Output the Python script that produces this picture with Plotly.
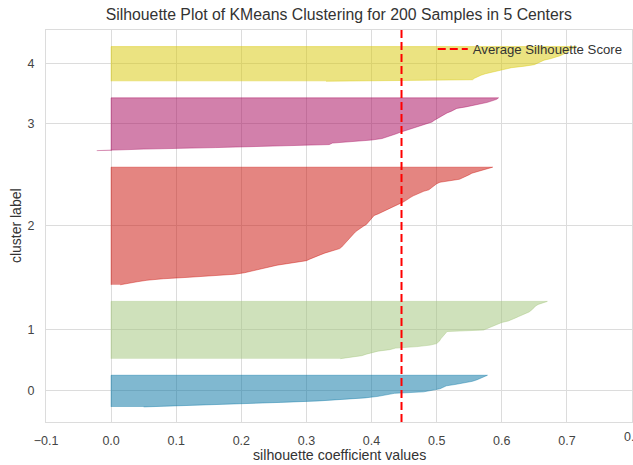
import plotly.graph_objects as go

# ---- data (sorted silhouette coefficients per cluster) ----
cluster_labels = ["0", "1", "2", "3", "4"]

silhouette_c0 = [0.05, 0.13, 0.20, 0.26, 0.32, 0.36, 0.39, 0.41, 0.425, 0.435, 0.48,
                 0.495, 0.505, 0.51, 0.515, 0.53, 0.545, 0.555, 0.562, 0.568, 0.573, 0.578]

silhouette_c1 = [0.352, 0.37, 0.385, 0.392, 0.40, 0.41, 0.428, 0.437, 0.47, 0.49, 0.50,
                 0.503, 0.505, 0.506, 0.508, 0.51, 0.512, 0.514, 0.516, 0.572, 0.578,
                 0.582, 0.587, 0.593, 0.60, 0.61, 0.617, 0.621, 0.626, 0.632, 0.638,
                 0.642, 0.645, 0.648, 0.65, 0.652, 0.656, 0.663, 0.67]

silhouette_c2 = [0.014, 0.025, 0.04, 0.055, 0.08, 0.12, 0.15, 0.19, 0.205, 0.215, 0.222,
                 0.23, 0.24, 0.255, 0.27, 0.288, 0.30, 0.305, 0.31, 0.316, 0.322, 0.328,
                 0.335, 0.345, 0.351, 0.354, 0.356, 0.358, 0.36, 0.362, 0.365, 0.367,
                 0.369, 0.371, 0.373, 0.375, 0.378, 0.381, 0.385, 0.388, 0.392, 0.394,
                 0.396, 0.398, 0.399, 0.401, 0.404, 0.41, 0.415, 0.42, 0.424, 0.43,
                 0.436, 0.441, 0.445, 0.449, 0.453, 0.456, 0.46, 0.464, 0.469, 0.474,
                 0.48, 0.488, 0.491, 0.494, 0.497, 0.50, 0.505, 0.525, 0.535, 0.54,
                 0.546, 0.55, 0.554, 0.562, 0.57, 0.578, 0.586]

silhouette_c3 = [-0.022, 0.05, 0.16, 0.26, 0.335, 0.34, 0.377, 0.40, 0.416, 0.424, 0.431,
                 0.437, 0.443, 0.45, 0.457, 0.465, 0.47, 0.478, 0.486, 0.493, 0.496,
                 0.50, 0.504, 0.507, 0.511, 0.516, 0.522, 0.527, 0.531, 0.545, 0.557,
                 0.568, 0.578, 0.585, 0.592, 0.595]

silhouette_c4 = [0.33, 0.555, 0.558, 0.562, 0.568, 0.575, 0.585, 0.59, 0.60, 0.615, 0.635,
                 0.65, 0.655, 0.66, 0.665, 0.675, 0.685, 0.69, 0.695, 0.70, 0.703, 0.706,
                 0.71, 0.715]

average_silhouette_score = 0.446
x_tick_values = [-0.1, 0.0, 0.1, 0.2, 0.3, 0.4, 0.5, 0.6, 0.7, 0.8]
x_tick_labels = ["\u22120.1", "0.0", "0.1", "0.2", "0.3", "0.4", "0.5", "0.6", "0.7", "0.8"]

# ---- styling ----
cluster_colors = ["2,114,162", "159,195,119", "202,11,3", "165,2,88", "215,199,3"]
FONT = "Liberation Sans, Arial, sans-serif"
GRID = "#dcdcdc"
TICKFONT = dict(family=FONT, size=12.5, color="#444444")

clusters = [silhouette_c0, silhouette_c1, silhouette_c2, silhouette_c3, silhouette_c4]

fig = go.Figure()
tick_pos = []
y_lower = 10
for values, rgb in zip(clusters, cluster_colors):
    size = len(values)
    ys = list(range(y_lower, y_lower + size))
    xs = list(values) + [0, 0]
    yy = ys + [ys[-1], ys[0]]
    fig.add_trace(go.Scatter(
        x=xs, y=yy, mode="lines", fill="toself",
        fillcolor=f"rgba({rgb},0.5)",
        line=dict(color=f"rgba({rgb},0.5)", width=0.8),
        showlegend=False, hoverinfo="skip"))
    tick_pos.append(y_lower + 0.5 * size)
    y_lower = y_lower + size + 10

n_samples = sum(len(v) for v in clusters)
y_max = n_samples + (len(clusters) + 1) * 10

fig.add_trace(go.Scatter(
    x=[average_silhouette_score, average_silhouette_score], y=[0, y_max],
    mode="lines", name="Average Silhouette Score",
    line=dict(color="#ff0000", width=2, dash="8px,4px"),
    showlegend=True, hoverinfo="skip"))

# the last x tick label sits on the right border of the figure (clipped there)
edge_label = dict(text=x_tick_labels[-1], xref="x", yref="paper",
                  x=x_tick_values[-1], y=-0.038, xanchor="center", yanchor="middle",
                  showarrow=False, font=TICKFONT)

fig.update_layout(
    width=633, height=465,
    margin=dict(l=46, r=1, t=30, b=43),
    paper_bgcolor="white", plot_bgcolor="white",
    font=dict(family=FONT, size=12, color="#444444"),
    title=dict(text="Silhouette Plot of KMeans Clustering for 200 Samples in 5 Centers",
               x=0.5353, xanchor="center", y=0.968, yanchor="middle",
               font=dict(family=FONT, size=15.8, color="#333333")),
    legend=dict(x=0.660, xanchor="left", y=0.99, yanchor="top",
                bgcolor="rgba(0,0,0,0)", borderwidth=0,
                font=dict(family=FONT, size=13.2, color="#333333")),
    xaxis=dict(range=[-0.1, 0.8], tickmode="array", tickvals=x_tick_values[:-1],
               ticktext=x_tick_labels[:-1], showgrid=True, gridcolor=GRID, gridwidth=1,
               zeroline=False, showline=True, linecolor=GRID, linewidth=1, mirror=True,
               ticks="", ticklabelstandoff=7, automargin=False,
               tickfont=TICKFONT),
    yaxis=dict(range=[0, y_max], tickmode="array", tickvals=tick_pos,
               ticktext=cluster_labels, showgrid=True, gridcolor=GRID, gridwidth=1,
               zeroline=False, showline=True, linecolor=GRID, linewidth=1, mirror=True,
               ticks="", ticklabelstandoff=8, automargin=False,
               tickfont=TICKFONT),
    annotations=[
        edge_label,
        dict(text="silhouette coefficient values", xref="paper", yref="paper",
             x=0.5, y=-0.083, xanchor="center", yanchor="middle", showarrow=False,
             font=dict(family=FONT, size=14.2, color="#333333")),
        dict(text="cluster label", xref="paper", yref="paper",
             x=-0.051, y=0.5, xanchor="center", yanchor="middle", showarrow=False,
             textangle=-90, font=dict(family=FONT, size=14, color="#333333")),
    ],
)

fig.write_html("out.html", config={"displayModeBar": False},
               post_script="document.body.style.margin='0';document.body.style.overflow='hidden';")
